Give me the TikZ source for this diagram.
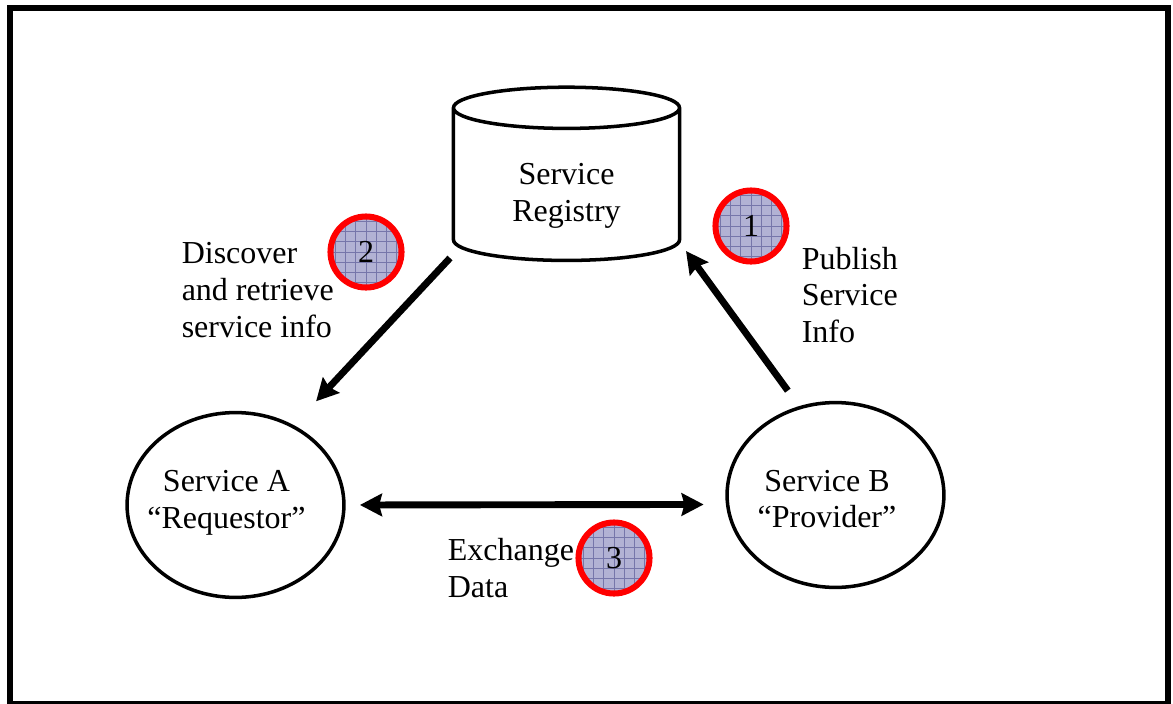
\documentclass[tikz,border=0pt]{standalone}
\usepackage{fontspec}
\setmainfont{Liberation Serif}
\usetikzlibrary{shapes.geometric,arrows.meta}
\definecolor{badgefill}{RGB}{178,178,212}
\definecolor{badgegrid}{RGB}{118,118,170}
\tikzset{flowtip/.tip={Stealth[length=.55cm,width=.56cm,inset=.07cm]}}
\tikzstyle{service}=[draw=black,ellipse,line width=2.5pt,inner sep=0,outer sep=0,minimum width=5.42cm,minimum height=4.62cm]
\tikzstyle{registrydb}=[draw=black,cylinder,shape border rotate=90,shape aspect=.38,line width=2.5pt,inner sep=0,outer sep=0,minimum width=5.65cm,minimum height=4.33cm,align=center,font=\fontsize{22.76}{26.2}\selectfont]
\tikzstyle{caption}=[align=left,anchor=west,inner sep=0,font=\fontsize{22.76}{26.2}\selectfont]
\tikzstyle{flow}=[draw=black,line width=4.9pt,-flowtip]
\tikzstyle{badge}=[circle,draw=red,line width=4.3pt,fill=badgefill,inner sep=0,minimum size=1.775cm,font=\fontsize{22.76}{26.2}\selectfont,
  path picture={
    \foreach \d in {-5,...,5}{
      \draw[badgegrid,line width=.6pt] ([xshift=\d*.2575cm]path picture bounding box.south) -- ([xshift=\d*.2575cm]path picture bounding box.north);
      \draw[badgegrid,line width=.6pt] ([yshift=\d*.2575cm]path picture bounding box.west) -- ([yshift=\d*.2575cm]path picture bounding box.east);
      \foreach \e in {-5,...,5}
        \fill[badgegrid] ([xshift=\d*.2575cm+.129cm,yshift=\e*.2575cm+.129cm]path picture bounding box.center) circle [radius=.012];
    }
  }]
\begin{document}
\begin{tikzpicture}[x=.025cm,y=-.025cm]
\useasboundingbox (0,0) rectangle (1173,704);
\draw[line width=4.25pt] (10.3,704)--(10.3,8)--(1168.3,8)--(1168.3,704);
\draw[line width=1.6pt] (10,702.5)--(1168,702.5);
\node[registrydb] (registry) at (566.5,185){\rule{0pt}{1.07cm}Service\\Registry};
\node[service] (requestor) at (235.5,505){};
\node[service] (provider) at (835.5,495){};
\coordinate (registryleft) at (450,258);
\coordinate (registryright) at (686,251);
\node[caption,anchor=center,align=center] (requestortext) at (226.5,503){Service A\\“Requestor”};
\node[caption,anchor=center,align=center] (providertext) at (827,499){Service B\\“Provider”};
\node[caption] (discover) at (181.5,290){Discover\\and retrieve\\service info};
\node[caption] (publish) at (801.5,295){Publish\\Service\\Info};
\node[caption] (exchange) at (447.5,568){Exchange\\Data};
\node[badge] (one) at (751,226){1};
\node[badge] (two) at (366,252){2};
\node[badge] (three) at (614,558){3};
\draw[flow,shorten >=.86cm] (registryleft)--(requestor.54);
\draw[flow,shorten <=.525cm] (provider.112)--(registryright);
\draw[flow,flowtip-flowtip,shorten <=.4cm,shorten >=.6cm] (requestor.0)--(provider.185);
\end{tikzpicture}
\end{document}
